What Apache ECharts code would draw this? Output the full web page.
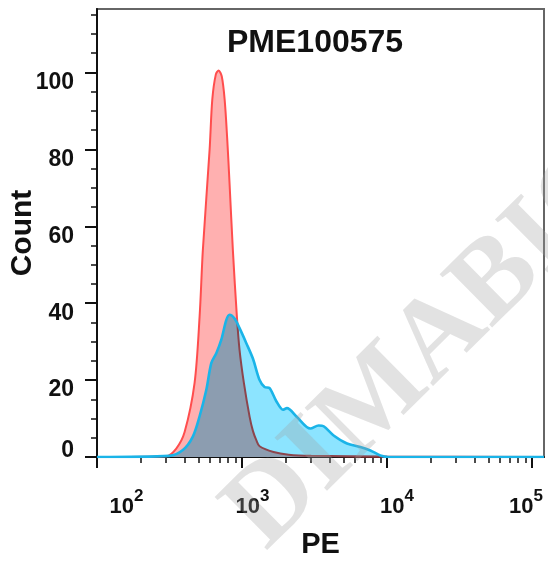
<!DOCTYPE html>
<html>
<head>
<meta charset="utf-8">
<script src="https://cdn.jsdelivr.net/npm/echarts@6/dist/echarts.min.js"></script>
<style>
html,body{margin:0;padding:0;background:#fff;}
#main{width:548px;height:563px;}
</style>
</head>
<body>
<div id="main"></div>
<script>
// ---- data ----
const titleText = 'PME100575';
const xName = 'PE';
const yName = 'Count';
const watermark = 'DIMABIO';

const redX = [100, 300, 352, 402, 471, 510, 537, 598, 624, 660, 690, 725, 759, 790, 821, 865, 922, 962, 1031, 1128, 1189, 1255, 1322, 1650, 2100, 3000, 10000, 121000];
const redY = [0, 0.2, 2.2, 6.5, 19.3, 36.5, 53.8, 80, 93, 99.5, 100.5, 99, 93, 83, 71, 53.8, 36.5, 27.8, 19.2, 10.5, 6.8, 4.4, 2.8, 1.3, 0.6, 0.3, 0.1, 0];

const blueX = [100, 316, 391, 458, 510, 567, 614, 665, 720, 779, 821, 889, 962, 1071, 1189, 1322, 1431, 1550, 1725, 1916, 2042, 2393, 2959, 3378, 3657, 4285, 5298, 6550, 7677, 8992, 10280, 121000];
const blueY = [0, 0.3, 1.8, 5.3, 10.6, 17.4, 24.4, 27, 30.5, 35.6, 37, 36, 33.5, 29.6, 25.6, 20, 18.2, 17.9, 14.5, 12.3, 12.7, 10.4, 7.4, 8.2, 8.0, 5.6, 3.5, 2.6, 1.7, 0.4, 0, 0];

const xMajorTicks = [100, 1000, 10000, 100000];
const xMinorTicks = [200, 300, 400, 500, 600, 700, 800, 900, 2000, 3000, 4000, 5000, 6000, 7000, 8000, 9000, 20000, 30000, 40000, 50000, 60000, 70000, 80000, 90000];
const yMajorTicks = [0, 20, 40, 60, 80, 100];
const yMinorTicks = [5, 10, 15, 25, 30, 35, 45, 50, 55, 65, 70, 75, 85, 90, 95, 105, 110, 115];

const X_MIN = 100, X_MAX = 121000, Y_MIN = 0, Y_MAX = 116.5;

const RED_LINE = '#ff4d4d', RED_FILL = '#ffb0b0';
const BLUE_LINE = '#1ab4e8', BLUE_FILL = '#8ce4ff';
const FONT = '"Liberation Sans", Arial, Helvetica, sans-serif';

const redData = redX.map((x, i) => [x, redY[i]]);
const blueData = blueX.map((x, i) => [x, blueY[i]]);

const chart = echarts.init(document.getElementById('main'), null, {renderer: 'canvas'});

const xRich = {
  b2: {fontFamily: FONT, fontSize: 22, fontWeight: 'bold', color: '#111', padding: [0, 0, 0, 59], verticalAlign: 'bottom'},
  b3: {fontFamily: FONT, fontSize: 22, fontWeight: 'bold', color: '#111', padding: [0, 0, 0, 21], verticalAlign: 'bottom'},
  b4: {fontFamily: FONT, fontSize: 22, fontWeight: 'bold', color: '#111', padding: [0, 0, 0, 20], verticalAlign: 'bottom'},
  b5: {fontFamily: FONT, fontSize: 22, fontWeight: 'bold', color: '#111', verticalAlign: 'bottom'},
  s: {fontFamily: FONT, fontSize: 17, fontWeight: 'bold', color: '#111', padding: [0, 0, 13, 0], verticalAlign: 'bottom'},
  s5: {fontFamily: FONT, fontSize: 17, fontWeight: 'bold', color: '#111', padding: [0, 12, 13, 0], verticalAlign: 'bottom'}
};

const option = {
  animation: false,
  backgroundColor: '#fff',
  title: {
    text: titleText,
    left: 227, top: 27, padding: 0,
    textStyle: {fontFamily: FONT, fontSize: 32, fontWeight: 'bold', color: '#111'}
  },
  grid: {
    left: 97, right: 4, top: 9, bottom: 106,
    containLabel: false, outerBoundsMode: 'none',
    show: true, borderColor: '#666', borderWidth: 2, backgroundColor: 'transparent'
  },
  xAxis: [{
    type: 'log', logBase: 10, min: X_MIN, max: X_MAX, position: 'bottom',
    name: xName, nameLocation: 'middle', nameGap: 73, nameMoveOverlap: false,
    nameTextStyle: {fontFamily: FONT, fontSize: 29, fontWeight: 'bold', color: '#111'},
    axisLine: {show: true, onZero: false, lineStyle: {color: '#111', width: 2}},
    axisTick: {show: true, customValues: xMajorTicks, length: 11, lineStyle: {color: '#111', width: 2}},
    axisLabel: {
      show: true, customValues: xMajorTicks, margin: 31,
      formatter: function (v) {
        const e = Math.round(Math.log10(v));
        return '{b' + e + '|10}{' + (e === 5 ? 's5' : 's') + '|' + e + '}';
      },
      rich: xRich
    },
    splitLine: {show: false}, minorTick: {show: false}
  }, {
    type: 'log', logBase: 10, min: X_MIN, max: X_MAX, position: 'bottom',
    axisLine: {show: false, onZero: false},
    axisTick: {show: true, customValues: xMinorTicks, length: 6, lineStyle: {color: '#111', width: 1.5}},
    axisLabel: {show: false},
    splitLine: {show: false}
  }],
  yAxis: [{
    type: 'value', min: Y_MIN, max: Y_MAX, position: 'left',
    name: yName, nameLocation: 'middle', nameGap: 59, nameRotate: 90, nameMoveOverlap: false,
    nameTextStyle: {fontFamily: FONT, fontSize: 30, fontWeight: 'bold', color: '#111'},
    axisLine: {show: true, onZero: false, lineStyle: {color: '#111', width: 2}},
    axisTick: {show: true, customValues: yMajorTicks, length: 12, lineStyle: {color: '#111', width: 2}},
    axisLabel: {
      show: true, customValues: yMajorTicks, margin: 23,
      formatter: function (v) { return v === 0 ? '{z|0}' : '{n|' + v + '}'; },
      rich: {
        n: {fontFamily: FONT, fontSize: 23, fontWeight: 'bold', color: '#111', padding: [20, 0, 0, 0]},
        z: {fontFamily: FONT, fontSize: 23, fontWeight: 'bold', color: '#111', padding: [0, 0, 12, 0]}
      }
    },
    splitLine: {show: false}
  }, {
    type: 'value', min: Y_MIN, max: Y_MAX, position: 'left',
    axisLine: {show: false, onZero: false},
    axisTick: {show: true, customValues: yMinorTicks, length: 6, lineStyle: {color: '#111', width: 1.5}},
    axisLabel: {show: false},
    splitLine: {show: false}
  }],
  graphic: [{
    type: 'text', z: 100, silent: true,
    x: 285, y: 571, rotation: 0.78,
    style: {
      text: watermark, fill: 'rgba(160,160,160,0.3)',
      font: 'bold 114px "Liberation Serif", "DejaVu Serif", serif',
      align: 'left', verticalAlign: 'bottom'
    }
  }],
  series: [{
    name: 'red', type: 'line', xAxisIndex: 0, yAxisIndex: 0,
    data: redData, smooth: 0.3, showSymbol: false, symbol: 'none',
    lineStyle: {color: RED_LINE, width: 2},
    areaStyle: {color: RED_FILL, opacity: 1},
    z: 2
  }, {
    name: 'blue', type: 'line', xAxisIndex: 0, yAxisIndex: 0,
    data: blueData, smooth: 0.3, showSymbol: false, symbol: 'none',
    lineStyle: {color: BLUE_LINE, width: 2.6},
    areaStyle: {color: BLUE_FILL, opacity: 1},
    z: 3
  }]
};

chart.setOption(option);

function applyBlend() {
  const zr = chart.getZr();
  zr.storage.getDisplayList(true).forEach(function (el) {
    if (el.style && el.style.fill === BLUE_FILL && el.type !== 'text' && !el.style.text) {
      el.style.blend = 'multiply';
      if (el.markRedraw) el.markRedraw();
    }
  });
  zr.refreshImmediately();
}
applyBlend();
setTimeout(applyBlend, 50);
</script>
</body>
</html>
